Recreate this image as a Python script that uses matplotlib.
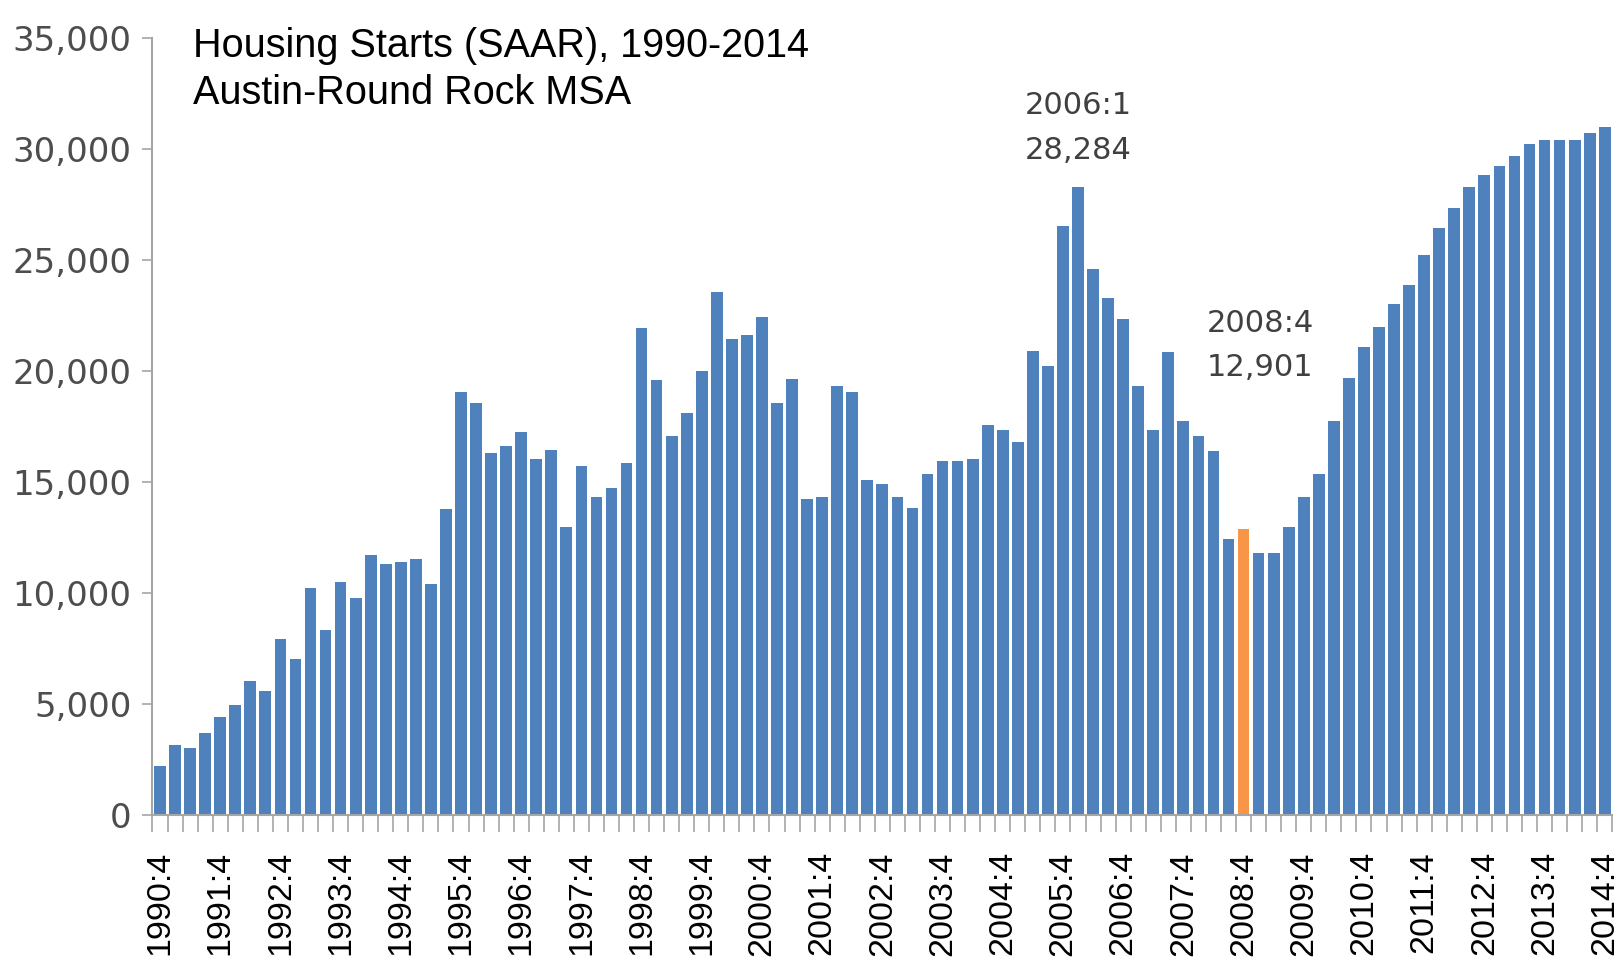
import matplotlib
matplotlib.use("Agg")
import matplotlib.pyplot as plt
from matplotlib.ticker import FuncFormatter

# === DATA (Austin-Round Rock MSA housing starts, SAAR) ===
QUARTERS = [f"{1990 + (i + 3) // 4}:{(i + 3) % 4 + 1}" for i in range(97)]  # 1990:4 .. 2014:4
STARTS = [
    2200, 3150, 3000, 3700, 4400, 4950, 6050, 5600, 7950, 7050,
    10250, 8350, 10500, 9800, 11700, 11300, 11400, 11550, 10400, 13800,
    19050, 18550, 16300, 16650, 17250, 16050, 16450, 13000, 15750, 14350,
    14750, 15850, 21950, 19600, 17100, 18100, 20000, 23550, 21450, 21650,
    22450, 18550, 19650, 14250, 14350, 19350, 19050, 15100, 14900, 14350,
    13850, 15350, 15950, 15950, 16050, 17600, 17350, 16800, 20900, 20250,
    26550, 28284, 24600, 23300, 22350, 19350, 17350, 20850, 17750, 17100,
    16400, 12450, 12901, 11800, 11800, 13000, 14350, 15350, 17750, 19700,
    21100, 22000, 23050, 23900, 25250, 26450, 27350, 28300, 28850, 29250,
    29700, 30250, 30400, 30400, 30400, 30750, 31000,
]
HIGHLIGHT = "2008:4"
PEAK = ("2006:1", "28,284")
TROUGH = ("2008:4", "12,901")

BLUE = "#4F81BD"
ORANGE = "#F79646"
AXIS_GRAY = "#A6A6A6"

NARROW = ["Liberation Sans Narrow", "Liberation Sans", "DejaVu Sans"]

# === DRAW ===
fig = plt.figure(figsize=(16.22, 9.6), dpi=100)
ax = fig.add_axes([0.094, 0.151, 0.9, 0.809])

x = list(range(len(STARTS)))
colors = [ORANGE if q == HIGHLIGHT else BLUE for q in QUARTERS]
ax.bar(x, STARTS, width=0.78, color=colors, edgecolor="none")

ax.set_xlim(-0.5, len(STARTS) - 0.5)
ax.set_ylim(0, 35000)

# y axis
ax.set_yticks(range(0, 35001, 5000))
ax.yaxis.set_major_formatter(FuncFormatter(lambda v, p: f"{int(v):,}"))
ax.tick_params(axis="y", length=7, width=1.2, color=AXIS_GRAY, pad=8,
               labelsize=24.5, labelcolor="#4D4D4D")

# x axis: labels every 4th quarter, tick marks between every category
label_idx = list(range(0, len(STARTS), 4))
ax.set_xticks(label_idx)
ax.set_xticklabels([QUARTERS[i] for i in label_idx], rotation=90,
                   fontsize=24.5, family=["Liberation Sans", "DejaVu Sans"])
ax.set_xticks([i - 0.5 for i in range(len(STARTS) + 1)], minor=True)
ax.tick_params(axis="x", which="major", length=0, pad=26)
ax.tick_params(axis="x", which="minor", length=12, width=1.2, color=AXIS_GRAY)

for side in ("top", "right"):
    ax.spines[side].set_visible(False)
for side in ("left", "bottom"):
    ax.spines[side].set_color(AXIS_GRAY)
    ax.spines[side].set_linewidth(1.5)

# title inside plot area
fig.text(0.119, 0.972, "Housing Starts (SAAR), 1990-2014\nAustin-Round Rock MSA",
         ha="left", va="top", fontsize=28.5, family=NARROW, linespacing=1.3)

# annotations
pk = QUARTERS.index(PEAK[0])
ax.text(pk, 31980, PEAK[0], ha="center", va="center", fontsize=22, color="#404040")
ax.text(pk, 29950, PEAK[1], ha="center", va="center", fontsize=22, color="#404040")
tr = QUARTERS.index(TROUGH[0])
ax.text(tr + 1.1, 22130, TROUGH[0], ha="center", va="center", fontsize=22, color="#404040")
ax.text(tr + 1.1, 20180, TROUGH[1], ha="center", va="center", fontsize=22, color="#404040")

plt.savefig("out.png", dpi=100)
